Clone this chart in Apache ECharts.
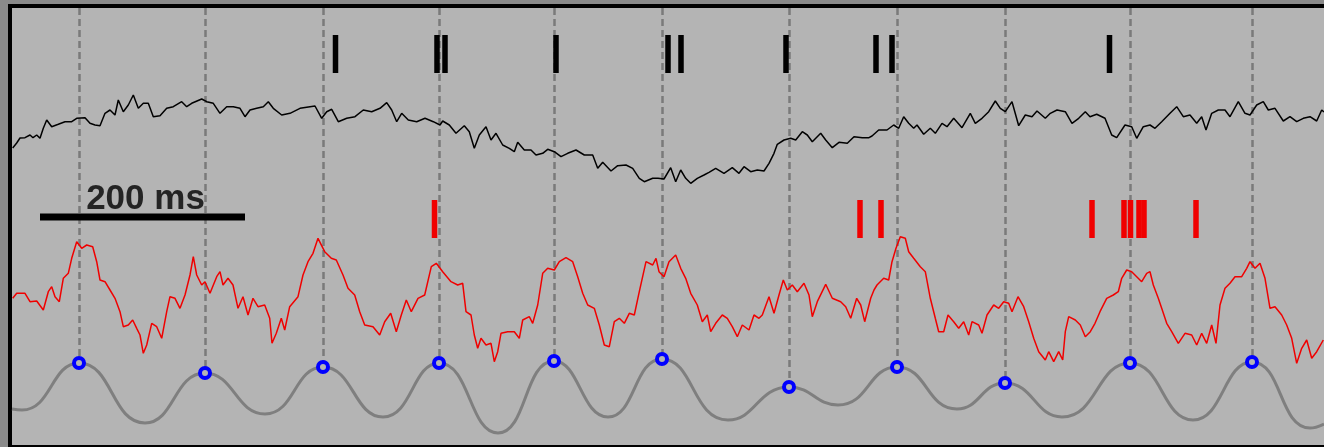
<!DOCTYPE html>
<html>
<head>
<meta charset="utf-8">
<script src="https://cdn.jsdelivr.net/npm/echarts@6/dist/echarts.min.js"></script>
<style>
html,body{margin:0;padding:0;background:#8a8a8a;}
#chart{width:1324px;height:447px;}
</style>
</head>
<body>
<div id="chart"></div>
<script>
// x: time axis units (≈1.025 units per ms), y: trace level (screen-down units)
const peakX = [79,205,323,439,554,662,789,897,1005,1130,1252];
const peakY = [363,373,367,363,361,359,387,367,383,363,362];
const troughX = [22,145,265,383,498,608,728,838,957,1062,1193,1310];
const troughY = [410,423,414,417,433,417,420,405,409,417,420,428];
const waveEnds = [[12,409],[1324,424]];

const blackSpikes = [335.5,437,445,556,668,681,786,876,892,1109.5];
const redSpikes = [434.5,860,881,1092,1124,1130.5,1139,1144,1196];
const blackSpikeLevel = 54;
const redSpikeLevel = 219;

const scaleBar = [[40,217],[245,217]];
const scaleLabel = '200 ms';

const blackTrace = [[12.7,148],[16.7,143],[20,138],[25,137.7],[30,135],[33,137.7],[36.7,135],[40,138.3],[43.3,128.3],[46.7,120],[51.7,126.7],[58.3,124.3],[65,121.7],[71.7,121.7],[76.7,118.3],[85,117.7],[90,123.3],[95,125],[100,125.7],[105,113.3],[110,110],[115,115],[118.3,100],[123.3,111.7],[128.3,105],[133.3,95],[138.3,108.3],[143.3,103.3],[148.3,103.3],[153.3,116.7],[160,115.7],[166.7,108.3],[173.3,106.7],[181.7,101.7],[186.7,106.7],[191.7,103.3],[201.7,99],[206.7,101.7],[213.3,103.3],[220,113.3],[226.7,106.7],[233.3,106.7],[240,108.3],[245,116.7],[250,110],[256.7,108.3],[263.3,106.7],[268.3,101.7],[273.3,108.3],[281.7,115],[290,113.3],[300,108.3],[310,106.7],[315,106],[321.7,118.3],[326.7,111.7],[331.7,109.3],[338.3,121.7],[346.7,118.3],[355,116.7],[363.3,110],[371.7,111.7],[380,108.3],[386.7,102.7],[391.7,110],[396.7,121.7],[401.7,113.3],[408.3,120],[416.7,121.7],[425,118.3],[433.3,121.7],[440,125],[442.7,121],[449.3,125],[456,133.3],[464.3,125.7],[469.3,131.7],[474.3,148.3],[479.3,135],[486,126.7],[491,140],[496,133.3],[502.7,145],[509.3,148.3],[514.3,151.7],[517.7,142.3],[524.3,150],[531,150],[536,155],[542.7,153.3],[547.7,149.3],[554.3,151.7],[561,156.7],[567.7,153.3],[576,150],[584.3,155],[592.7,155],[597.7,168.3],[602.7,162.3],[611,171],[617.7,165.7],[626,165],[632.7,168.3],[639.3,178.3],[644.3,181.7],[652.7,178.3],[658,178.3],[664,179],[670.7,167.7],[675.7,181.7],[680.7,170],[685.7,178.3],[690.7,183.3],[697.3,178.3],[704,175],[709,172.3],[715.7,168.3],[724,173.3],[732.3,167.7],[739,173.3],[744,166.7],[750.7,171.7],[757.3,170],[764,171],[769,163.3],[774,153.3],[777.3,144.3],[784,140],[790.7,138.3],[795.7,140],[802.3,131.7],[807.3,135],[812.3,141.7],[820.7,133.3],[825.7,140],[832.3,147.7],[839,142.3],[847.3,143.3],[854,136.7],[862.3,137.7],[869,137.7],[872,136],[878.7,130],[887,130],[893.7,125],[898.7,128.3],[903.7,116.7],[908.7,123.3],[913.7,128.3],[917,125],[923.7,134.3],[930.3,128.3],[935.3,133.3],[942,123.3],[947,126.7],[953.7,118.3],[962,127.7],[970.3,113.3],[975.3,123.3],[982,118.3],[988.7,111.7],[995.3,101],[1000.3,108.3],[1005.3,111.7],[1012,101.7],[1018.7,125.7],[1025.3,115],[1032,116.7],[1037,111],[1045.3,118.3],[1050.3,113.3],[1057,110],[1065.3,111.7],[1072,123.3],[1078.7,118.3],[1085.3,111.7],[1090,116.7],[1096.7,114.3],[1105,118.3],[1111.7,135],[1116.7,137.7],[1125,125],[1131.7,126.7],[1136.7,138.3],[1143.3,126.7],[1150,125],[1155,128.3],[1161.7,121.7],[1170,113.3],[1176.7,106.7],[1183.3,116.7],[1190,115],[1196.7,123.3],[1201.7,116.7],[1206,130],[1211.7,113.3],[1218.3,110],[1225,110],[1230,116.7],[1238.3,101.7],[1245,113.3],[1250,115],[1256.7,105],[1263.3,101.7],[1268.3,110],[1275,108.3],[1283.3,121],[1290,116.7],[1296.7,121.7],[1303.3,118.3],[1310,116.7],[1316.7,121],[1321.7,110],[1324,112]];

const redTrace = [[12.7,298.3],[16.7,293.3],[25,293.3],[30,301.7],[36.7,301],[43.3,310],[48.3,291.7],[51.7,286.7],[55,296.7],[59.3,301.7],[63.3,278.3],[68.3,273.3],[71.7,258.3],[76.7,241.7],[81.7,248.3],[86.7,245],[92.7,246.7],[96.7,261.7],[100,280],[105,281.7],[110,290],[115,298.3],[120,311.7],[123.3,326.7],[128.3,325],[132.7,320],[136.7,328.3],[140,335],[143.3,353.3],[146.7,345],[151.7,323.3],[156.7,326.7],[161.7,338.3],[166.7,311.7],[170,296.7],[175,298.3],[180,308.3],[185,295],[190,275],[193.3,256.7],[196.7,275],[201.7,285],[205,281.7],[210,293.3],[216.7,276.7],[220,271.7],[223,285],[228,278.3],[233,285],[238,308.3],[243,296.7],[248,315],[253,298.3],[258,306.7],[264.7,305],[269.7,318.3],[272,343.3],[276.3,333.3],[281.3,318.3],[284.7,330],[289.7,306.7],[298,296.7],[303,275],[308,261.7],[313,253.3],[318,238.3],[324.7,251.7],[331.3,258.3],[336.3,260],[343,275],[348,288.3],[354.7,295],[359.7,311.7],[364.7,325],[373,326.7],[379.7,335],[384.7,321.7],[390.7,313.3],[396.3,331.7],[401.3,315],[406.3,300],[411.3,311.7],[418,298.3],[424.7,295],[431.3,266.7],[436.3,263.3],[442.7,271.7],[451,281.7],[457.7,285],[462.7,283.3],[466,311.7],[471,315],[474.3,335],[477.7,348.3],[481,338.3],[486,345],[491,343.3],[494.3,361.7],[497.7,351.7],[501,333.3],[507.7,331.7],[514.3,331.7],[519.3,338.3],[522.7,320],[529.3,316.7],[532.7,323.3],[537.7,305],[542.7,273.3],[547.7,268.3],[554.3,270],[559.3,261.7],[566,257.7],[572.7,261.7],[577.7,276.7],[582.7,293.3],[587.7,305],[594.3,308.3],[599.3,325],[604.3,345],[609.3,346.7],[614.3,321.7],[619.3,318.3],[624.3,323.3],[629.3,313.3],[634.3,315],[639.3,291.7],[646,261.7],[652.7,265],[656,258.3],[659,271.7],[664,276.7],[669,261.7],[675.7,255],[680.7,268.3],[685.7,278.3],[690.7,293.3],[697.3,305],[702.3,321.7],[707.3,315],[710.7,331.7],[715.7,323.3],[722.3,315],[727.3,318.3],[732.3,326.7],[737.3,336.7],[742.3,325],[749,330],[754,315],[759,318.3],[762.3,315],[769,296.7],[774,313.3],[779,295],[783.3,280],[787.3,290],[792.3,285],[797.3,291.7],[804,283.3],[809,295],[812.3,316.7],[817.3,301.7],[825.7,284.3],[832.3,298.3],[840.7,301.7],[845.7,306.7],[850.7,318.3],[856.7,298.3],[860.7,305],[864.7,321.7],[870.7,298.3],[874,290],[877,285],[883.7,278.3],[888.7,280],[892,261.7],[896,248.3],[900.3,236.7],[905.3,238.3],[908.7,251.7],[913.7,258.3],[920.3,266.7],[925.3,271.7],[930.3,298.3],[935.3,318.3],[938.7,331.7],[943.7,331.7],[948,315],[953.7,321.7],[958.7,328.3],[963.7,321.7],[968.7,335],[972,321.7],[978.7,325],[982,333.3],[987,315],[993.7,305],[998.7,308.3],[1003.7,301.7],[1008.7,303.3],[1012,311.7],[1018,296.7],[1023.7,306.7],[1028.7,321.7],[1033.7,338.3],[1038.7,351.7],[1045.3,360],[1048.7,351.7],[1053.7,361.7],[1058.7,351.7],[1062.7,360],[1065.3,331.7],[1068.7,316.7],[1075.3,320],[1080.3,325],[1085.3,336.7],[1090.3,331.7],[1095,323.3],[1100,311.7],[1106.7,298.3],[1113.3,295],[1118.3,291.7],[1121.7,278.3],[1126.7,270],[1131.7,271.7],[1136.7,276.7],[1141.7,281.7],[1146.7,273.3],[1150,271.7],[1153.3,285],[1158.3,298.3],[1161.7,308.3],[1166.7,323.3],[1171.7,331.7],[1178.3,343.3],[1185,333.3],[1191.7,335],[1196.7,345],[1201.7,333.3],[1206.7,343.3],[1211.7,325],[1216,343.3],[1220,305],[1225,288.3],[1230,283.3],[1235,276.7],[1241.7,276.7],[1246.7,268.3],[1250,261.7],[1255,268.3],[1260,263.3],[1265,278.3],[1270,308.3],[1275,306.7],[1281.7,315],[1286.7,325],[1291.7,338.3],[1296.7,363.3],[1301.7,348.3],[1306.7,340],[1311.7,358.3],[1316.7,351.7],[1323.3,340]];

const BG = '#b4b4b4';
const PLOT = {x0: 12, x1: 1324, yTop: 8, yBottom: 445};

// gray wave points built from peaks & troughs
const wave = [waveEnds[0]]
  .concat(peakX.map((x, i) => [x, peakY[i]]))
  .concat(troughX.map((x, i) => [x, troughY[i]]))
  .concat([waveEnds[1]])
  .sort((a, b) => a[0] - b[0]);

const chart = echarts.init(document.getElementById('chart'), null, {renderer: 'canvas'});
chart.setOption({
  animation: false,
  backgroundColor: '#8a8a8a',
  graphic: [
    {type: 'rect', z: -10, shape: {x: 10, y: 6, width: 1330, height: 441}, style: {fill: BG, stroke: '#000', lineWidth: 4}}
  ],
  grid: {left: PLOT.x0, right: 0, top: PLOT.yTop, bottom: 447 - PLOT.yBottom, show: false},
  xAxis: {type: 'value', min: PLOT.x0, max: PLOT.x1, show: false},
  yAxis: {type: 'value', min: PLOT.yTop, max: PLOT.yBottom, inverse: true, show: false},
  series: [
    {
      type: 'line', data: wave, smooth: 0.5, showSymbol: false, z: 2,
      lineStyle: {color: '#7f7f7f', width: 3},
      markLine: {
        silent: true, symbol: 'none', label: {show: false}, z: 1,
        lineStyle: {color: '#7a7a7a', width: 2.5, type: [7, 4]},
        data: peakX.map((x, i) => [{coord: [x, PLOT.yTop]}, {coord: [x, peakY[i]]}])
      }
    },
    {
      type: 'line', data: blackTrace, showSymbol: false, z: 3,
      lineStyle: {color: '#000', width: 1.5}
    },
    {
      type: 'line', data: redTrace, showSymbol: false, z: 3,
      lineStyle: {color: '#f00000', width: 1.5}
    },
    {
      type: 'scatter', data: peakX.map((x, i) => [x, peakY[i]]), z: 6,
      symbol: 'circle', symbolSize: 10,
      itemStyle: {color: BG, borderColor: '#0000ff', borderWidth: 4, opacity: 1}
    },
    {
      type: 'scatter', data: blackSpikes.map(x => [x, blackSpikeLevel]), z: 6,
      symbol: 'rect', symbolSize: [5.5, 38], itemStyle: {color: '#000', opacity: 1}
    },
    {
      type: 'scatter', data: redSpikes.map(x => [x, redSpikeLevel]), z: 6,
      symbol: 'rect', symbolSize: [5.5, 38], itemStyle: {color: '#f00000', opacity: 1}
    },
    {
      type: 'line', data: scaleBar, showSymbol: false, z: 6,
      lineStyle: {color: '#000', width: 7, cap: 'butt'}
    },
    {
      type: 'scatter', data: [[(scaleBar[0][0] + scaleBar[1][0]) / 2 + 3, 199]], z: 7,
      symbolSize: 0,
      label: {
        show: true, position: 'inside', formatter: scaleLabel,
        fontFamily: 'Liberation Sans, Arial, sans-serif', fontWeight: 'bold', fontSize: 35,
        color: '#000', align: 'center', verticalAlign: 'middle'
      }
    }
  ]
});
</script>
</body>
</html>
